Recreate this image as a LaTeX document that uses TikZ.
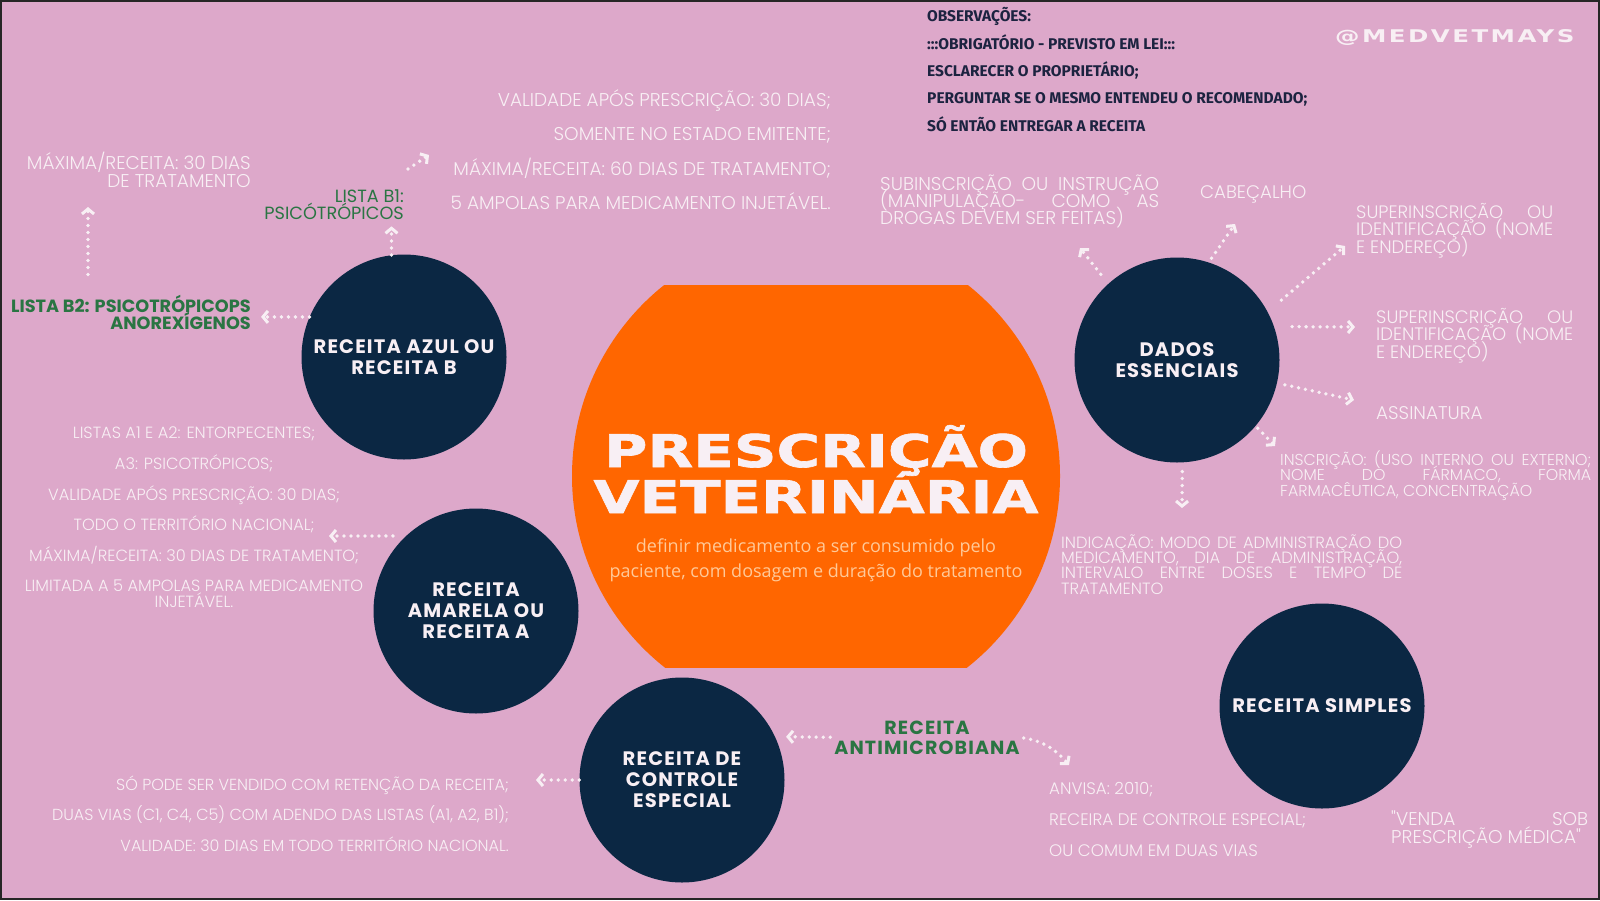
\documentclass[tikz,border=0pt]{standalone}
\usepackage{fontspec}
\setmainfont{Poppins}
\newfontfamily\lightfont{Poppins Light}
\newfontfamily\hubfont{Poppins}[LetterSpace=6]
\newfontfamily\obsfont{Fira Sans}
\newfontfamily\widefont{DejaVu Sans Bold}[FakeStretch=1.32,FakeBold=1.5]
\newfontfamily\handlefont{DejaVu Sans Bold}[FakeStretch=1.4,LetterSpace=14]
\newfontfamily\subfont{Open Sans}
\usetikzlibrary{arrows.meta}
\setlength{\lineskiplimit}{-60pt}

\definecolor{bgpink}{HTML}{DDA8CA}
\definecolor{navy}{HTML}{0B2743}
\definecolor{orng}{HTML}{FF6600}
\definecolor{leaf}{HTML}{2A7543}
\definecolor{milk}{HTML}{F8EFF4}
\definecolor{ink}{HTML}{1C2340}
\definecolor{peach}{HTML}{FFC998}

\newcommand{\jl}[2]{\makebox[#1][s]{#2}}

\tikzset{
  hub/.style={circle, fill=navy, minimum size=205pt, inner sep=0pt, text=milk,
    align=center, font=\hubfont\bfseries\fontsize{19.5}{21}\selectfont},
  note/.style={inner sep=0pt, text=milk},
  greenlbl/.style={inner sep=0pt, text=leaf},
  dotarrow/.style={draw=milk, line width=3.8pt, line cap=round,
    dash pattern=on 0pt off 7pt,
    -{Straight Barb[length=5pt,width=12pt,line width=3pt]}},
}

\begin{document}
\begin{tikzpicture}[x=1pt,y=-1pt]
  \useasboundingbox (0,0) rectangle (1600,900);
  \fill[bgpink] (0,0) rectangle (1600,900);
  \draw[line width=2pt, draw=black!85] (1,1) rectangle (1599,899);

  % centre
  \begin{scope}
    \clip (0,285) rectangle (1600,667);
    \fill[orng] (816,476) circle (244pt);
  \end{scope}
  \node[anchor=base, inner sep=0pt, text=milk, align=center,
    font=\widefont\fontsize{45}{46}\selectfont] (title) at (816,513)
    {PRESCRIÇÃO\\VETERINÁRIA};
  \node[anchor=base, inner sep=0pt, text=peach, align=center,
    font=\subfont\fontsize{18}{25}\selectfont] (sub) at (816,577)
    {definir medicamento a ser consumido pelo\\paciente, com dosagem e duração do tratamento};

  % circles
  \node[hub] (azul) at (404,357) {RECEITA AZUL OU\\RECEITA B};
  \node[hub] (dados) at (1177,360) {DADOS\\ESSENCIAIS};
  \node[hub] (amarela) at (476,611) {RECEITA\\AMARELA OU\\RECEITA A};
  \node[hub] (controle) at (682,780) {RECEITA DE\\CONTROLE\\ESPECIAL};
  \node[hub] (simples) at (1322,706) {RECEITA SIMPLES};

  % header
  \node[anchor=base west, inner sep=0pt, text=ink, align=left,
    font=\obsfont\bfseries\fontsize{15.5}{27.3}\selectfont] (obs) at (927,131)
    {OBSERVAÇÕES:\\:::OBRIGATÓRIO - PREVISTO EM LEI:::\\ESCLARECER O PROPRIETÁRIO;\\
     PERGUNTAR SE O MESMO ENTENDEU O RECOMENDADO;\\SÓ ENTÃO ENTREGAR A RECEITA};
  \node[anchor=base west, inner sep=0pt, text=milk,
    font=\handlefont\fontsize{17.5}{17.5}\selectfont] (handle) at (1335,42) {@MEDVETMAYS};

  % receita azul
  \node[note, anchor=base east, align=right, font=\lightfont\fontsize{18.5}{17.5}\selectfont]
    (max30) at (251,187) {MÁXIMA/RECEITA: 30 DIAS\\DE TRATAMENTO};
  \node[greenlbl, anchor=base east, align=right, font=\fontsize{17.7}{17}\selectfont]
    (b1) at (404,219) {LISTA B1:\\PSICÓTRÓPICOS};
  \node[greenlbl, anchor=base east, align=right, font=\bfseries\fontsize{17.7}{17}\selectfont]
    (b2) at (251,329) {LISTA B2: PSICOTRÓPICOPS\\ANOREXÍGENOS};
  \node[note, anchor=base east, align=right, font=\lightfont\fontsize{18.5}{34.5}\selectfont]
    (toplist) at (831,209.5) {VALIDADE APÓS PRESCRIÇÃO: 30 DIAS;\\SOMENTE NO ESTADO EMITENTE;\\
     MÁXIMA/RECEITA: 60 DIAS DE TRATAMENTO;\\5 AMPOLAS PARA MEDICAMENTO INJETÁVEL.};

  % receita amarela
  \node[note, anchor=base, align=center, font=\lightfont\fontsize{16.2}{30.6}\selectfont]
    (amlist) at (194,607) {LISTAS A1 E A2: ENTORPECENTES;\\A3: PSICOTRÓPICOS;\\
     VALIDADE APÓS PRESCRIÇÃO: 30 DIAS;\\TODO O TERRITÓRIO NACIONAL;\\
     MÁXIMA/RECEITA: 30 DIAS DE TRATAMENTO;\\LIMITADA A 5 AMPOLAS PARA MEDICAMENTO\\[-15.5pt]INJETÁVEL.};

  % controle especial
  \node[note, anchor=base east, align=right, font=\lightfont\fontsize{16}{30.5}\selectfont]
    (ctlist) at (509,851) {SÓ PODE SER VENDIDO COM RETENÇÃO DA RECEITA;\\
     DUAS VIAS (C1, C4, C5) COM ADENDO DAS LISTAS (A1, A2, B1);\\
     VALIDADE: 30 DIAS EM TODO TERRITÓRIO NACIONAL.};
  \node[greenlbl, anchor=base, align=center, font=\hubfont\bfseries\fontsize{19}{20}\selectfont]
    (antimicro) at (927,754) {RECEITA\\ANTIMICROBIANA};
  \node[note, anchor=base west, align=left, font=\lightfont\fontsize{16.7}{31}\selectfont]
    (anvisa) at (1049,856) {ANVISA: 2010;\\RECEIRA DE CONTROLE ESPECIAL;\\OU COMUM EM DUAS VIAS};

  % receita simples
  \node[note, anchor=base west, align=left, font=\lightfont\fontsize{18.5}{18}\selectfont]
    (venda) at (1391,843) {\jl{197pt}{"VENDA SOB}\\PRESCRIÇÃO MÉDICA"};

  % dados essenciais
  \node[note, anchor=base west, align=left, font=\lightfont\fontsize{18.5}{17}\selectfont]
    (subins) at (880,224) {\jl{279pt}{SUBINSCRIÇÃO OU INSTRUÇÃO}\\
     \jl{279pt}{(MANIPULAÇÃO- COMO AS}\\DROGAS DEVEM SER FEITAS)};
  \node[note, anchor=base west, font=\lightfont\fontsize{18.2}{17}\selectfont]
    (cabecalho) at (1200,198) {CABEÇALHO};
  \node[note, anchor=base west, align=left, font=\lightfont\fontsize{18}{17.5}\selectfont]
    (super1) at (1356,253) {\jl{197pt}{SUPERINSCRIÇÃO OU}\\\jl{197pt}{IDENTIFICAÇÃO (NOME}\\E ENDEREÇO)};
  \node[note, anchor=base west, align=left, font=\lightfont\fontsize{18}{17.5}\selectfont]
    (super2) at (1376,358) {\jl{197pt}{SUPERINSCRIÇÃO OU}\\\jl{197pt}{IDENTIFICAÇÃO (NOME}\\E ENDEREÇO)};
  \node[note, anchor=base west, font=\lightfont\fontsize{18.4}{17}\selectfont]
    (assinatura) at (1376,419) {ASSINATURA};
  \node[note, anchor=base west, align=left, font=\lightfont\fontsize{15.8}{15.5}\selectfont]
    (inscricao) at (1280,496) {\jl{311pt}{INSCRIÇÃO: (USO INTERNO OU EXTERNO;}\\
     \jl{311pt}{NOME DO FÁRMACO, FORMA}\\FARMACÊUTICA, CONCENTRAÇÃO};
  \node[note, anchor=base west, align=left, font=\lightfont\fontsize{16.3}{15.3}\selectfont]
    (indicacao) at (1061,594) {\jl{341pt}{INDICAÇÃO: MODO DE ADMINISTRAÇÃO DO}\\
     \jl{341pt}{MEDICAMENTO, DIA DE ADMINISTRAÇÃO,}\\
     \jl{341pt}{INTERVALO ENTRE DOSES E TEMPO DE}\\TRATAMENTO};

  % arrow tips
  \coordinate (tipmax) at (88,207);
  \coordinate (tipb1) at (429,155);
  \coordinate (tipam) at (329,536);
  \coordinate (tipanv) at (1069,765);
  \coordinate (tipsub) at (1080,248);
  \coordinate (tipcab) at (1235,224);
  \coordinate (tipsup1) at (1345,246);
  \coordinate (tipsup2) at (1355,327);
  \coordinate (tipass) at (1354,400);
  \coordinate (tipins) at (1275,446);
  \coordinate (tipind) at (1182,508);

  % arrows
  \draw[dotarrow, shorten <=20pt] (b2.north -| tipmax) -- (tipmax);
  \draw[dotarrow, shorten >=7pt] (azul.97) -- (azul.97 |- b1.south);
  \draw[dotarrow] ([shift={(4,-20)}]b1.north east) -- (tipb1);
  \draw[dotarrow, shorten >=10pt] (azul.157) -- (azul.157 -| b2.east);
  \draw[dotarrow, shorten <=13pt] (amarela.133) -- (tipam);
  \draw[dotarrow, shorten >=27pt] (controle.west) -- (controle.west -| ctlist.east);
  \draw[dotarrow, shorten <=4pt, shorten >=11pt] (antimicro.west) -- (controle.25);
  \draw[dotarrow, shorten <=4pt] (antimicro.east) to[bend left=20] (tipanv);
  \draw[dotarrow, shorten <=12pt] (dados.132) -- (tipsub);
  \draw[dotarrow, shorten <=5pt] (dados.72) -- (tipcab);
  \draw[dotarrow, shorten <=18pt] (dados.28) -- (tipsup1);
  \draw[dotarrow, shorten <=18pt] (dados.19) -- (tipsup2);
  \draw[dotarrow, shorten <=8pt] (dados.-13) -- (tipass);
  \draw[dotarrow, shorten <=3pt] (dados.-40) -- (tipins);
  \draw[dotarrow, shorten <=9pt] (dados.-87) -- (tipind);
\end{tikzpicture}
\end{document}
